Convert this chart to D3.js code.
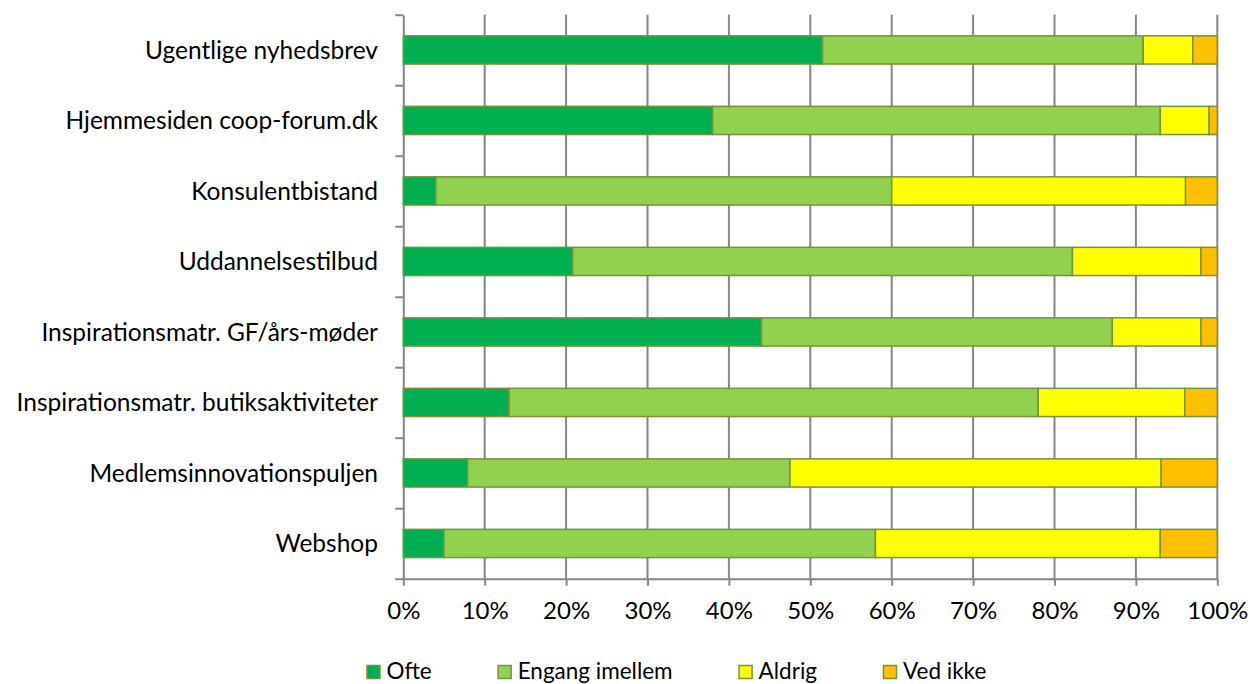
<!DOCTYPE html>
<html>
<head>
<meta charset="utf-8">
<script src="https://cdn.jsdelivr.net/npm/d3@7"></script>
<style>
  html, body { margin: 0; padding: 0; background: #fff; }
  svg { display: block; }
  text { font-family: Lato, "Open Sans", sans-serif; fill: #000; }
</style>
</head>
<body>
<svg id="chart" width="1251" height="684"></svg>
<script>
// Channels, top to bottom
const categories = [
  "Ugentlige nyhedsbrev",
  "Hjemmesiden coop-forum.dk",
  "Konsulentbistand",
  "Uddannelsestilbud",
  "Inspirationsmatr. GF/års-møder",
  "Inspirationsmatr. butiksaktiviteter",
  "Medlemsinnovationspuljen",
  "Webshop"
];

// Answer shares (%) per channel
const ofte          = [51.5, 38.0,  4.0, 20.8, 44.0, 13.0,  7.9,  5.0];
const engangImellem = [39.4, 55.0, 56.0, 61.4, 43.1, 65.0, 39.6, 53.0];
const aldrig        = [ 6.1,  6.0, 36.1, 15.8, 10.9, 18.0, 45.6, 35.0];
const vedIkke       = [ 3.0,  1.0,  3.9,  2.0,  2.0,  4.0,  6.9,  7.0];

const seriesNames  = ["Ofte", "Engang imellem", "Aldrig", "Ved ikke"];
const seriesColors = ["#00B050", "#92D050", "#FFFF00", "#FFC000"];
const tickValues   = [0, 10, 20, 30, 40, 50, 60, 70, 80, 90, 100];

const rows = categories.map((c, i) => ({
  cat: c,
  "Ofte": ofte[i],
  "Engang imellem": engangImellem[i],
  "Aldrig": aldrig[i],
  "Ved ikke": vedIkke[i]
}));

const svg = d3.select("#chart");
const plotLeft = 403.3, plotRight = 1217.3, plotTop = 14.7, plotBottom = 578.7;

const x = d3.scaleLinear().domain([0, 100]).range([plotLeft, plotRight]);
const y = d3.scaleBand().domain(categories).range([plotTop, plotBottom]).paddingInner(0.6).paddingOuter(0.3);
const yIdx = d3.scaleLinear().domain([0, categories.length]).range([plotTop, plotBottom]);
const color = d3.scaleOrdinal().domain(seriesNames).range(seriesColors);

const grey = "#868686";

// vertical gridlines
svg.append("g")
  .selectAll("line")
  .data(tickValues.filter(v => v > 0))
  .join("line")
  .attr("x1", d => x(d)).attr("x2", d => x(d))
  .attr("y1", plotTop).attr("y2", plotBottom)
  .attr("stroke", grey).attr("stroke-width", 2);

// x axis
const xAxis = svg.append("g")
  .attr("transform", `translate(0,${plotBottom})`)
  .call(d3.axisBottom(x).tickValues(tickValues).tickFormat(d => d + "%").tickSizeInner(7).tickSizeOuter(0).tickPadding(16));
xAxis.select(".domain").attr("stroke", grey).attr("stroke-width", 2);
xAxis.selectAll(".tick line").attr("stroke", grey).attr("stroke-width", 2);
xAxis.selectAll(".tick text").attr("font-size", 24).attr("font-family", "Lato, sans-serif").attr("fill", "#000");

// y axis with ticks at band boundaries
const yAxis = svg.append("g")
  .attr("transform", `translate(${plotLeft},0)`)
  .call(d3.axisLeft(yIdx).tickValues(d3.range(categories.length + 1)).tickFormat("").tickSizeInner(8).tickSizeOuter(0));
yAxis.select(".domain").attr("stroke", grey).attr("stroke-width", 2);
yAxis.selectAll(".tick line").attr("stroke", grey).attr("stroke-width", 2);

// category labels
svg.append("g")
  .selectAll("text")
  .data(categories)
  .join("text")
  .attr("x", 378)
  .attr("y", d => y(d) + y.bandwidth() / 2)
  .attr("dy", "0.35em")
  .attr("text-anchor", "end")
  .attr("font-size", 24.5)
  .text(d => d);

// stacked bars
const stacked = d3.stack().keys(seriesNames)(rows);
svg.append("g")
  .selectAll("g")
  .data(stacked)
  .join("g")
  .attr("fill", d => color(d.key))
  .selectAll("rect")
  .data(d => d)
  .join("rect")
  .attr("x", d => x(d[0]))
  .attr("y", d => y(d.data.cat))
  .attr("width", d => x(d[1]) - x(d[0]))
  .attr("height", y.bandwidth())
  .attr("stroke", "#76923C")
  .attr("stroke-width", 1.5);

// legend
const legend = svg.append("g").attr("transform", "translate(367,672)");
let lx = 0;
seriesNames.forEach(name => {
  const g = legend.append("g").attr("transform", `translate(${lx},0)`);
  g.append("rect")
    .attr("x", 0).attr("y", -6.5).attr("width", 13).attr("height", 13)
    .attr("fill", color(name)).attr("stroke", "#76923C").attr("stroke-width", 1.5);
  const t = g.append("text")
    .attr("x", 19.5).attr("y", 7)
    .attr("font-size", 22.5).text(name);
  lx += 19.5 + t.node().getComputedTextLength() + 66.5;
});
</script>
</body>
</html>
